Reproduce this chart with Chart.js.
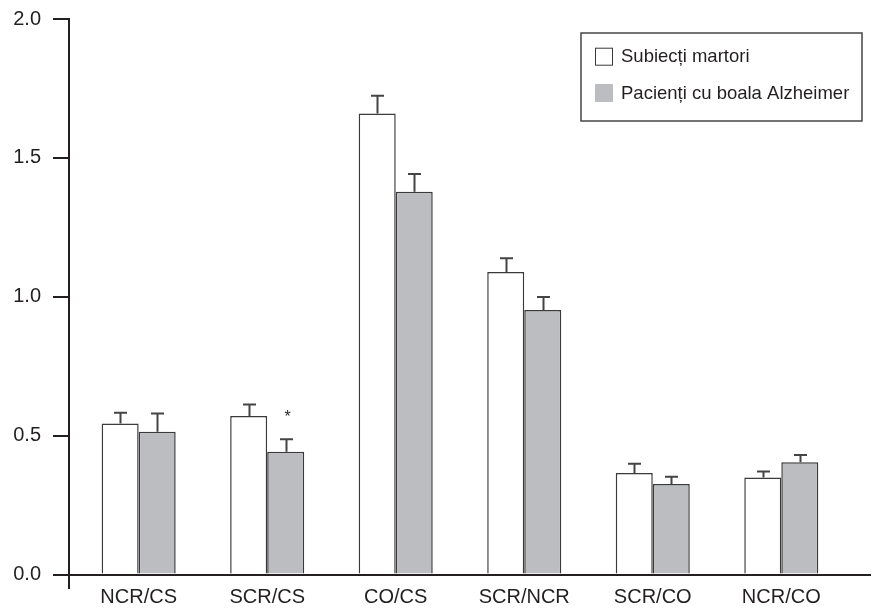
<!DOCTYPE html>
<html>
<head>
<meta charset="utf-8">
<script src="https://cdn.jsdelivr.net/npm/chart.js@4/dist/chart.umd.min.js"></script>
<style>
  html, body { margin: 0; padding: 0; background: #fff; }
  #wrap { width: 877px; height: 608px; }
</style>
</head>
<body>
<div id="wrap"><canvas id="c" width="877" height="608"></canvas></div>
<script>
// Ratio categories
const categories = ['NCR/CS', 'SCR/CS', 'CO/CS', 'SCR/NCR', 'SCR/CO', 'NCR/CO'];
const seriesNames = ['Subiecți martori', 'Pacienți cu boala Alzheimer'];

// Means and upper error (SEM) per group
const controlMeans = [0.544, 0.571, 1.660, 1.089, 0.365, 0.349];
const controlErr   = [0.038, 0.041, 0.064, 0.050, 0.034, 0.022];
const adMeans      = [0.514, 0.442, 1.378, 0.952, 0.326, 0.404];
const adErr        = [0.066, 0.045, 0.064, 0.047, 0.026, 0.026];

// Significance markers for the Alzheimer group
const adMarks = ['', '*', '', '', '', ''];

// Y axis tick values
const yTicks = [0, 0.5, 1.0, 1.5, 2.0];

const INK = '#231f20';
const BAR_EDGE = '#3a3a3a';
const GREY = '#bcbdc1';
const FONT = "'Liberation Sans', Arial, Helvetica, sans-serif";

const errorsBySeries = [controlErr, adErr];
const marksBySeries = [null, adMarks];

// Upper error bars with T caps, plus significance asterisks
const errorBarPlugin = {
  id: 'errorBars',
  afterDatasetsDraw(chart) {
    const ctx = chart.ctx;
    const yScale = chart.scales.y;
    ctx.save();
    chart.data.datasets.forEach((ds, di) => {
      const meta = chart.getDatasetMeta(di);
      const errs = errorsBySeries[di];
      const marks = marksBySeries[di];
      meta.data.forEach((bar, i) => {
        const mean = ds.data[i].y;
        const topPx = yScale.getPixelForValue(mean + errs[i]);
        const x = Math.round(bar.x) + 0.5;
        ctx.strokeStyle = '#444';
        ctx.lineWidth = 2;
        ctx.beginPath();
        ctx.moveTo(x, bar.y);
        ctx.lineTo(x, topPx);
        ctx.moveTo(x - 6.5, topPx);
        ctx.lineTo(x + 6.5, topPx);
        ctx.stroke();
        if (marks && marks[i]) {
          ctx.fillStyle = INK;
          ctx.font = '16px ' + FONT;
          ctx.textAlign = 'center';
          ctx.textBaseline = 'middle';
          ctx.fillText(marks[i], x + 1, topPx - 21.5);
        }
      });
    });
    ctx.restore();
  }
};

// Boxed legend in the upper right corner
const boxLegendPlugin = {
  id: 'boxLegend',
  afterDraw(chart) {
    const ctx = chart.ctx;
    const bx = 581, by = 33, bw = 281, bh = 88;
    ctx.save();
    ctx.fillStyle = '#fff';
    ctx.fillRect(bx, by, bw, bh);
    ctx.strokeStyle = '#444';
    ctx.lineWidth = 1.5;
    ctx.strokeRect(bx, by, bw, bh);
    const rows = [56.7, 93];
    chart.data.datasets.forEach((ds, i) => {
      const cy = rows[i];
      ctx.fillStyle = ds.backgroundColor;
      ctx.fillRect(595, cy - 9, 18, 18);
      if (i === 0) {
        ctx.strokeStyle = BAR_EDGE;
        ctx.lineWidth = 1;
        ctx.strokeRect(595.5, cy - 8.5, 17, 17);
      }
      ctx.fillStyle = INK;
      ctx.font = '18.5px ' + FONT;
      ctx.textAlign = 'left';
      ctx.textBaseline = 'middle';
      ctx.fillText(ds.label, 621, cy + 0.5);
    });
    ctx.restore();
  }
};

const chart = new Chart(document.getElementById('c'), {
  type: 'bar',
  data: {
    datasets: [
      {
        label: seriesNames[0],
        data: controlMeans.map((v, i) => ({ x: i, y: v })),
        backgroundColor: '#ffffff',
        borderColor: BAR_EDGE,
        borderWidth: 1.5,
        borderSkipped: 'bottom'
      },
      {
        label: seriesNames[1],
        data: adMeans.map((v, i) => ({ x: i, y: v })),
        backgroundColor: GREY,
        borderColor: BAR_EDGE,
        borderWidth: 1.5,
        borderSkipped: 'bottom'
      }
    ]
  },
  options: {
    responsive: false,
    animation: false,
    devicePixelRatio: 1,
    categoryPercentage: 0.576,
    barPercentage: 1,
    layout: { padding: { top: 19, right: 6, left: 0, bottom: 0 } },
    plugins: { legend: { display: false }, tooltip: { enabled: false } },
    scales: {
      x: {
        type: 'linear',
        min: -0.542,
        max: 5.698,
        offset: false,
        grid: { display: false, drawTicks: false, tickLength: 0 },
        border: { display: false },
        afterBuildTicks: s => { s.ticks = categories.map((_, i) => ({ value: i })); },
        afterFit: s => { s.height = 20; s.paddingLeft = 0; s.paddingRight = 0; },
        ticks: {
          callback: v => categories[v],
          color: INK,
          font: { family: FONT, size: 20 },
          padding: -3,
          maxRotation: 0,
          autoSkip: false
        }
      },
      y: {
        min: -0.0486,
        max: 2,
        afterBuildTicks: s => { s.ticks = yTicks.map(v => ({ value: v })); },
        afterFit: s => { s.width = 69; s.paddingTop = 0; s.paddingBottom = 0; },
        ticks: {
          callback: v => Number(v).toFixed(1),
          color: INK,
          font: { family: FONT, size: 20 },
          padding: 12
        },
        grid: {
          color: c => (c.tick && c.tick.value === 0 ? INK : 'rgba(0,0,0,0)'),
          tickColor: INK,
          tickLength: 16,
          lineWidth: 2,
          drawOnChartArea: true
        },
        border: { display: true, color: INK, width: 2 }
      }
    }
  },
  plugins: [errorBarPlugin, boxLegendPlugin]
});
</script>
</body>
</html>
